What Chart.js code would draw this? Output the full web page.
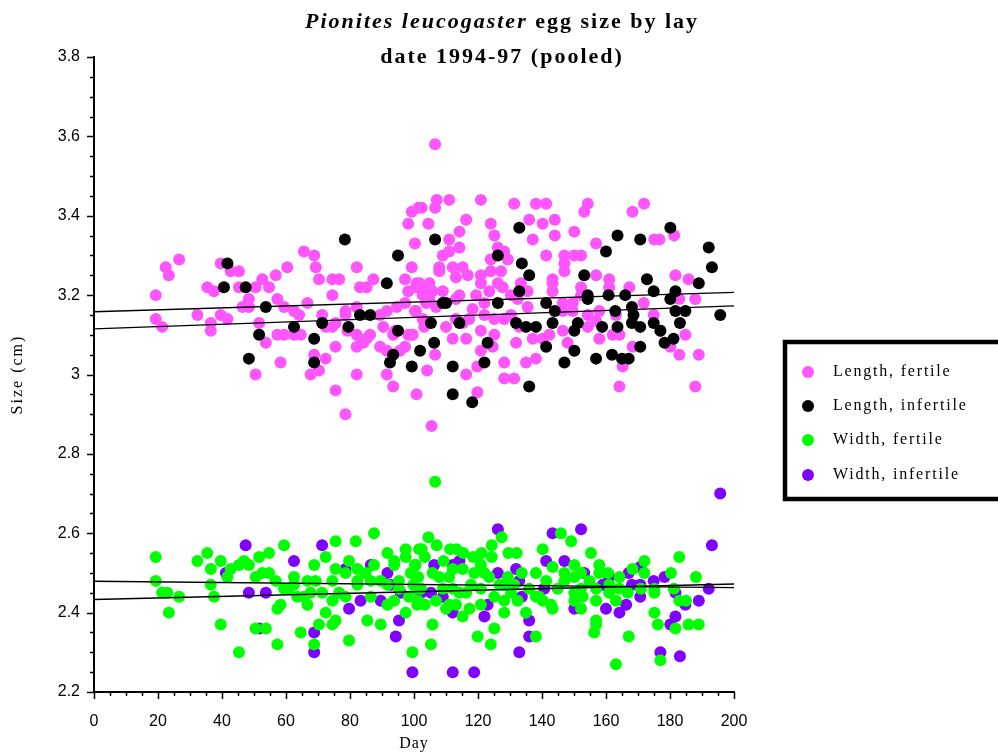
<!DOCTYPE html>
<html>
<head>
<meta charset="utf-8">
<script src="https://cdn.jsdelivr.net/npm/chart.js@4.4.1/dist/chart.umd.min.js"></script>
<style>
  html, body { margin: 0; padding: 0; background: #fff; }
  #wrap { width: 998px; height: 756px; }
</style>
</head>
<body>
<div id="wrap"><canvas id="eggChart" width="998" height="756"></canvas></div>
<script>
// egg size by lay date ([day, size cm])

const seriesNames = ['Length, fertile', 'Length, infertile', 'Width, fertile', 'Width, infertile'];
const seriesColors = ['#ff55ff', '#000000', '#00ff00', '#8000ff'];

const lengthFertile = [
  [19.3,3.20],[19.3,3.14],[21.3,3.12],[22.4,3.27],[23.4,3.25],[26.6,3.29],[32.3,3.15],[35.4,3.22],[37.5,3.21],[36.5,3.13],
  [36.5,3.11],[39.6,3.15],[41.7,3.14],[39.6,3.28],[42.7,3.26],[45.3,3.26],[45.3,3.22],[46.4,3.17],[48.4,3.19],[48.4,3.17],
  [50.5,3.22],[52.6,3.24],[54.7,3.22],[56.8,3.25],[51.6,3.13],[53.7,3.08],[50.5,3.00],[57.3,3.19],[59.4,3.17],[60.4,3.27],
  [57.3,3.10],[59.4,3.10],[62.5,3.10],[64.6,3.10],[58.3,3.03],[62.5,3.16],[64.1,3.15],[66.7,3.18],[65.6,3.31],[68.8,3.30],
  [69.3,3.27],[70.3,3.24],[71.3,3.15],[72.4,3.12],[74.5,3.12],[75.5,3.13],[74.5,3.20],[74.5,3.24],[76.6,3.24],[68.8,3.05],
  [72.4,3.04],[75.5,3.07],[67.7,3.00],[70.3,3.01],[75.5,2.96],[78.6,2.90],[78.6,3.16],[78.6,3.15],[79.2,3.11],[82.1,3.27],
  [82.1,3.17],[82.1,3.10],[82.1,3.07],[82.1,3.00],[83.1,3.22],[85.2,3.22],[87.3,3.24],[84.2,3.08],[85.2,3.09],[86.3,3.10],
  [89.4,3.15],[90.4,3.12],[91.5,3.16],[89.4,3.07],[91.5,3.06],[91.5,3.00],[93.5,2.97],[93.5,3.10],[94.1,3.11],[94.6,3.17],
  [95.6,3.06],[97.2,3.07],[98.2,3.10],[99.3,3.10],[97.2,3.24],[98.2,3.21],[97.2,3.18],[99.3,3.27],[100.3,3.33],[98.2,3.38],
  [99.3,3.41],[101.4,3.42],[100.8,3.23],[100.3,3.16],[100.8,2.95],
  [106.6,3.58],[107.1,3.44],[111,3.44],[120.9,3.44],[106.6,3.42],[102.4,3.42],[104.5,3.38],[116.3,3.39],[131.3,3.43],[138.1,3.43],
  [141.3,3.43],[154.3,3.43],[153.2,3.41],[168.3,3.41],[171.9,3.43],[136,3.39],[140.2,3.38],[144,3.39],[124,3.38],[125.1,3.35],
  [137.1,3.34],[144,3.35],[150.1,3.36],[111,3.34],[114.2,3.36],[114.2,3.32],[111,3.31],[109,3.30],[107.9,3.27],[107.9,3.26],
  [112.1,3.27],[115.2,3.27],[116.8,3.25],[113.1,3.245],[126.2,3.32],[128.2,3.31],[129.3,3.29],[124,3.29],[124,3.26],[127.2,3.26],
  [120.9,3.25],[120.9,3.23],[126.2,3.23],[127.7,3.22],[141.3,3.30],[147,3.30],[147,3.28],[147,3.26],[150.1,3.30],[152.2,3.30],
  [156.9,3.33],[156.9,3.25],[161,3.24],[161,3.22],[152.2,3.22],[143.3,3.24],[143.3,3.23],[143.3,3.21],[167.3,3.22],[175.1,3.34],
  [176.7,3.34],[181.3,3.35],[181.7,3.25],[185.8,3.24],[187.9,3.19],[182.9,3.19],[171.8,3.18],[174.9,3.15],[177,3.11],[184.8,3.10],
  [180.1,3.07],[182.9,3.05],[189,3.05],[187.9,2.97],[168.3,3.07],[165.2,3.02],[164.2,2.97],[164.2,3.10],[162.1,3.10],[163.1,3.15],
  [157.9,3.09],[157.9,3.16],[154.3,3.12],[154.3,3.15],[156.9,3.135],[152.2,3.20],[149.6,3.18],[149.6,3.16],[146.5,3.18],[146.5,3.16],
  [146.5,3.11],[148,3.08],[142.3,3.10],[140.2,3.09],[137.1,3.09],[138.1,3.04],[135,3.03],[131.3,2.99],[128.2,2.99],[128.2,3.03],
  [131.9,3.08],[132.9,3.12],[135.5,3.17],[135.5,3.21],[133.4,3.23],[132.4,3.19],[130.3,3.20],[130.3,3.15],[128.2,3.14],[125.1,3.10],
  [125.1,3.14],[124.6,3.07],[120.9,3.06],[119.8,3.02],[119.8,2.955],[116.3,3.00],[120.9,3.11],[122,3.15],[122,3.18],[123.5,3.21],
  [119.4,3.20],[118.3,3.165],[117.3,3.14],[116.3,3.09],[115.2,3.13],[113.1,3.14],[112.1,3.09],[110,3.12],[113.1,3.19],[114.2,3.20],
  [109,3.21],[106.9,3.17],[104.8,3.19],[102.7,3.20],[100.6,3.22],[103.8,3.22],[101.7,3.23],[105.8,3.21],[104.8,3.23],[103.8,3.18],
  [100.6,3.16],[102.7,3.14],[103.2,3.12],[99.6,3.10],[106.6,3.05],[104.1,3.01],[105.5,2.87]
];

const lengthInfertile = [
  [41.7,3.28],[40.6,3.22],[47.4,3.22],[53.7,3.17],[51.6,3.10],[48.4,3.04],[62.5,3.12],[68.8,3.09],[68.8,3.03],[71.3,3.13],
  [78.4,3.34],[79.5,3.12],[83.1,3.15],[86.3,3.15],[91.5,3.23],[95,3.30],[95,3.11],[93.5,3.05],[92.5,3.03],[99.3,3.02],
  [101.9,3.06],[106.6,3.34],[132.9,3.37],[126.2,3.30],[133.7,3.28],[136,3.25],[153.2,3.25],[160,3.31],[163.6,3.35],[170.7,3.34],
  [180.1,3.37],[192.1,3.32],[193.1,3.27],[172.8,3.24],[189,3.23],[174.9,3.21],[181.7,3.21],[180.1,3.19],[166,3.20],[160.8,3.20],
  [154.3,3.20],[154.3,3.19],[141.3,3.18],[126.2,3.18],[109,3.18],[195.7,3.15],[181.7,3.16],[184.8,3.16],[168.1,3.17],[168.6,3.15],
  [162.9,3.16],[183.1,3.13],[174.9,3.13],[170.7,3.12],[168.1,3.13],[163.6,3.12],[158.8,3.12],[177,3.11],[181.1,3.09],[178.3,3.08],
  [170.7,3.07],[161.9,3.05],[165,3.04],[167.1,3.04],[156.9,3.04],[150.1,3.06],[147,3.03],[141.3,3.07],[151.2,3.13],[150.1,3.11],
  [143.3,3.13],[138.1,3.12],[135,3.12],[144,3.16],[131.9,3.13],[132.9,3.21],[136,2.97],[122,3.03],[123,3.08],[118.2,2.93],
  [112.1,2.95],[112.1,3.02],[106.3,3.08],[105.3,3.13],[114.2,3.13],[110,3.18]
];

const widthFertile = [
  [19.3,2.54],[19.3,2.48],[21.3,2.45],[22.9,2.45],[23.4,2.40],[26.6,2.44],[32.3,2.53],[35.4,2.55],[36.5,2.51],[36.5,2.47],
  [37.5,2.44],[39.6,2.53],[39.6,2.37],[41.7,2.49],[42.7,2.51],[45.3,2.52],[46.9,2.53],[48.4,2.52],[51.6,2.54],[54.7,2.55],
  [50.5,2.49],[52.6,2.50],[54.7,2.50],[56.8,2.48],[45.3,2.30],[50.5,2.36],[53.7,2.36],[57.3,2.41],[58.3,2.42],[57.3,2.32],
  [59.4,2.57],[59.4,2.46],[60.9,2.46],[62.5,2.49],[62.5,2.47],[63.5,2.44],[65.6,2.44],[66.7,2.48],[69.3,2.48],[66.7,2.42],
  [67.7,2.45],[64.6,2.35],[68.8,2.52],[72.4,2.54],[75.5,2.58],[75.5,2.51],[74.5,2.48],[71.3,2.45],[74.5,2.43],[72.4,2.40],
  [70.3,2.37],[74.5,2.37],[75.5,2.38],[68.8,2.32],[79.7,2.53],[78.6,2.50],[76.6,2.45],[78.6,2.44],[79.7,2.33],[81.8,2.58],
  [82.3,2.51],[82.3,2.48],[82.3,2.47],[84.9,2.50],[86.5,2.48],[87.5,2.60],[87.5,2.52],[86.5,2.44],[85.4,2.38],[89.6,2.37],
  [89.6,2.48],[91.7,2.55],[93.8,2.53],[93.8,2.52],[91.7,2.47],[91.7,2.42],[93.8,2.43],[95.3,2.48],[95.3,2.46],[97.4,2.56],
  [97.4,2.54],[97.4,2.40],[99,2.50],[98.4,2.44],[99.5,2.30],[100.5,2.52],[101.6,2.56],[101,2.42],
  [106.6,2.73],[104.5,2.59],[107.1,2.57],[102.4,2.56],[103.4,2.54],[100.3,2.52],[99.3,2.50],[101.3,2.49],[109.2,2.53],[111.3,2.56],
  [113.3,2.56],[115.4,2.55],[118.5,2.54],[121.1,2.55],[124.3,2.57],[127.4,2.59],[124.3,2.54],[129.5,2.55],[132.1,2.55],[140.2,2.56],
  [145.9,2.60],[149.1,2.58],[155.3,2.55],[157.9,2.52],[150.1,2.52],[172,2.53],[164.2,2.49],[182.9,2.54],[188.1,2.49],[180.3,2.50],
  [181.2,2.46],[182.9,2.43],[185,2.43],[175.1,2.46],[175.1,2.45],[175.1,2.40],[176.2,2.37],[181.7,2.36],[185.8,2.37],[189,2.37],
  [177,2.28],[163.1,2.27],[167.1,2.34],[172,2.50],[168.3,2.51],[170.9,2.46],[166.8,2.45],[164.2,2.46],[161,2.45],[163.1,2.43],
  [156.9,2.43],[156.9,2.46],[157.9,2.50],[154.8,2.48],[152.7,2.44],[152.2,2.41],[150.1,2.43],[156.9,2.38],[156.9,2.37],[156.3,2.35],
  [150.1,2.49],[147,2.50],[147,2.48],[144.9,2.46],[143.3,2.41],[140.2,2.43],[139.1,2.44],[141.3,2.48],[138.1,2.50],[138.1,2.34],
  [135,2.40],[136,2.46],[133.7,2.50],[131.3,2.47],[128.2,2.47],[130.3,2.45],[128.2,2.43],[128.2,2.40],[125.1,2.44],[125.1,2.36],
  [124,2.32],[119.9,2.34],[120.9,2.42],[120.9,2.46],[122,2.50],[118.8,2.50],[117.8,2.47],[116.3,2.45],[117.3,2.41],[115.2,2.39],
  [113.1,2.42],[114.2,2.45],[112.1,2.46],[111,2.49],[107.9,2.49],[105.8,2.50],[109,2.46],[106.9,2.43],[105.8,2.37],[105.3,2.32],
  [103.4,2.42],[101.3,2.43],[111,2.42],[102.2,2.46],[99.8,2.47],[143.3,2.515],[152.2,2.50],[160.6,2.50],[161,2.47],[152.2,2.46],
  [132.4,2.43],[150.1,2.45],[142.8,2.42],[138.1,2.44],[110,2.41],[123.5,2.49],[126.7,2.47],[129.3,2.49],[119.9,2.54],[120.9,2.52],
  [115.2,2.51],[112.1,2.51],[100.6,2.46]
];

const widthInfertile = [
  [47.4,2.57],[41.2,2.50],[48.4,2.45],[53.7,2.45],[51.6,2.36],[62.5,2.53],[71.3,2.57],[68.8,2.35],[68.8,2.30],[78.6,2.51],
  [79.7,2.41],[83.3,2.43],[86.5,2.52],[89.6,2.43],[91.7,2.50],[92.7,2.47],[95.3,2.38],[94.3,2.34],[95.8,2.45],[99.5,2.25],
  [102.1,2.45],[126.2,2.61],[143.3,2.60],[152.2,2.61],[195.7,2.70],[193.1,2.57],[192.1,2.46],[189,2.43],[184.8,2.42],[181.7,2.45],
  [181.7,2.39],[180.1,2.37],[183.1,2.29],[177,2.30],[178.3,2.49],[174.9,2.48],[170.7,2.515],[170.7,2.47],[168.1,2.47],[170.7,2.44],
  [167.1,2.50],[166.3,2.42],[164.2,2.40],[160,2.41],[161,2.49],[159,2.47],[153.2,2.50],[147,2.53],[141.3,2.53],[140.7,2.46],
  [150.1,2.41],[136,2.38],[136,2.34],[132.9,2.30],[132.9,2.48],[133.7,2.44],[131.9,2.51],[126.2,2.50],[123,2.42],[122,2.39],
  [118.8,2.25],[112.1,2.25],[112.1,2.40],[105.3,2.45],[106.3,2.52],[112.1,2.52],[114.2,2.53],[109,2.44],[102.2,2.45]
];

// fitted lines: size at day 0 and day 200
const fitDays = [0, 200];
const fitLengthFertile = [3.158, 3.207];
const fitLengthInfertile = [3.115, 3.173];
const fitWidthFertile = [2.479, 2.463];
const fitWidthInfertile = [2.433, 2.472];

const xTicks = [0, 20, 40, 60, 80, 100, 120, 140, 160, 180, 200];
const yTicks = [2.2, 2.4, 2.6, 2.8, 3.0, 3.2, 3.4, 3.6, 3.8];

const toPoints = arr => arr.map(p => ({ x: p[0], y: p[1] }));
const fitPoints = vals => fitDays.map((d, i) => ({ x: d, y: vals[i] }));

function dotSet(i, data, order) {
    return {
        type: 'scatter',
        label: seriesNames[i],
        data: toPoints(data),
        backgroundColor: seriesColors[i],
        borderWidth: 0,
        pointRadius: 6,
        pointHoverRadius: 6,
        order: order
    };
}

function fitSet(vals) {
    return {
        type: 'line',
        data: fitPoints(vals),
        borderColor: '#000',
        borderWidth: 1.4,
        pointRadius: 0,
        fill: false,
        order: 0
    };
}

// axis ticks (major every 20 / 0.2, minor every 5 / 0.05), axis titles, title, legend
const decorPlugin = {
    id: 'decor',
    afterDraw(chart) {
        const ctx = chart.ctx;
        const xs = chart.scales.x, ys = chart.scales.y;
        const area = chart.chartArea;
        ctx.save();
        ctx.strokeStyle = '#000';
        ctx.lineWidth = 1.5;
        ctx.beginPath();
        for (let v = 0; v <= 200; v += 5) {
            const px = Math.round(xs.getPixelForValue(v)) + 0.5;
            const len = v % 20 === 0 ? 7 : 4;
            ctx.moveTo(px, area.bottom);
            ctx.lineTo(px, area.bottom + len);
        }
        for (let k = 0; k <= 32; k++) {
            const v = 2.2 + k * 0.05;
            const py = Math.round(ys.getPixelForValue(v)) + 0.5;
            const len = k % 4 === 0 ? 7 : 4;
            ctx.moveTo(area.left, py);
            ctx.lineTo(area.left - len, py);
        }
        ctx.stroke();

        // axis titles
        ctx.fillStyle = '#000';
        ctx.font = '16px "Liberation Serif"';
        ctx.textAlign = 'center';
        ctx.textBaseline = 'middle';
        ctx.letterSpacing = '1px';
        ctx.fillText('Day', (area.left + area.right) / 2, 744);
        ctx.save();
        ctx.translate(18, (area.top + area.bottom) / 2);
        ctx.rotate(-Math.PI / 2);
        ctx.letterSpacing = '2px';
        ctx.fillText('Size (cm)', 0, 0);
        ctx.restore();

        // title, first part italic
        const cx = 502;
        ctx.letterSpacing = '2px';
        ctx.textBaseline = 'alphabetic';
        ctx.textAlign = 'left';
        const it = 'italic bold 22px "Liberation Serif"';
        const bd = 'bold 22px "Liberation Serif"';
        const p1 = 'Pionites leucogaster', p2 = ' egg size by lay';
        ctx.font = it; const w1 = ctx.measureText(p1).width;
        ctx.font = bd; const w2 = ctx.measureText(p2).width;
        let x0 = cx - (w1 + w2) / 2;
        ctx.font = it; ctx.fillText(p1, x0, 28);
        ctx.font = bd; ctx.fillText(p2, x0 + w1, 28);
        ctx.textAlign = 'center';
        ctx.fillText('date 1994-97 (pooled)', cx, 63);

        // legend box
        ctx.lineWidth = 4.5;
        ctx.strokeRect(785, 342, 230, 157);
        ctx.font = '16px "Liberation Serif"';
        ctx.textAlign = 'left';
        ctx.textBaseline = 'middle';
        ctx.letterSpacing = '1.8px';
        const rows = [372, 406, 440, 475];
        seriesNames.forEach((name, i) => {
            ctx.fillStyle = seriesColors[i];
            ctx.beginPath();
            ctx.arc(808, rows[i], 6, 0, Math.PI * 2);
            ctx.fill();
            ctx.fillStyle = '#000';
            ctx.fillText(name, 833, rows[i]);
        });
        ctx.restore();
    }
};

new Chart(document.getElementById('eggChart'), {
    data: {
        datasets: [
            fitSet(fitLengthFertile),
            fitSet(fitLengthInfertile),
            fitSet(fitWidthFertile),
            fitSet(fitWidthInfertile),
            dotSet(0, lengthFertile, 2),
            dotSet(1, lengthInfertile, 1),
            dotSet(2, widthFertile, 3),
            dotSet(3, widthInfertile, 4)
        ]
    },
    options: {
        responsive: false,
        animation: false,
        layout: { padding: { top: 57, right: 264, bottom: 0, left: 0 } },
        plugins: { legend: { display: false }, tooltip: { enabled: false }, title: { display: false } },
        scales: {
            x: {
                type: 'linear',
                min: 0, max: 200,
                grid: { display: false, drawTicks: false },
                border: { display: true, color: '#000', width: 2 },
                afterFit: s => { s.height = 64; },
                afterBuildTicks: s => { s.ticks = xTicks.map(v => ({ value: v })); },
                ticks: {
                    autoSkip: false, maxRotation: 0, padding: 20, color: '#000',
                    font: { family: 'Liberation Sans', size: 16 },
                    callback: v => String(v)
                }
            },
            y: {
                type: 'linear',
                min: 2.2, max: 3.8,
                grid: { display: false, drawTicks: false },
                border: { display: true, color: '#000', width: 2 },
                afterFit: s => { s.width = 94; },
                afterBuildTicks: s => { s.ticks = yTicks.map(v => ({ value: v })); },
                ticks: {
                    autoSkip: false, padding: 14, color: '#000',
                    font: { family: 'Liberation Sans', size: 16 },
                    callback: v => String(Math.round(v * 10) / 10)
                }
            }
        }
    },
    plugins: [decorPlugin]
});
</script>
</body>
</html>
